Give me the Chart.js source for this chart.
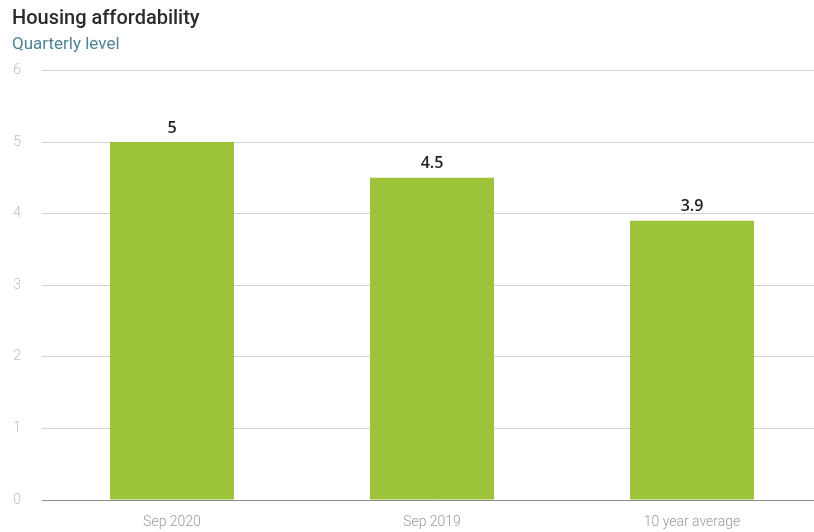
<!DOCTYPE html>
<html>
<head>
<meta charset="utf-8">
<script src="https://cdn.jsdelivr.net/npm/chart.js@4/dist/chart.umd.min.js"></script>
<style>
  html, body { margin: 0; padding: 0; background: #fff; overflow: hidden; }
  #clip { width: 814px; height: 532px; overflow: hidden; }
  #wrap { width: 822px; height: 532px; position: relative; }
</style>
</head>
<body>
<div id="clip"><div id="wrap"><canvas id="chart"></canvas></div></div>
<script>
// data
const categories = ['Sep 2020', 'Sep 2019', '10 year average'];
const affordability = [5, 4.5, 3.9];
const yTicks = [0, 1, 2, 3, 4, 5, 6];

// value labels above bars
const valueLabels = {
  id: 'valueLabels',
  afterDatasetsDraw(chart) {
    const ctx = chart.ctx;
    const meta = chart.getDatasetMeta(0);
    ctx.save();
    ctx.font = '600 16px "Open Sans"';
    ctx.fillStyle = '#222';
    ctx.textAlign = 'center';
    ctx.textBaseline = 'bottom';
    meta.data.forEach((bar, i) => {
      ctx.fillText(String(affordability[i]), bar.x, bar.y - 6);
    });
    ctx.restore();
  }
};

new Chart(document.getElementById('chart'), {
  type: 'bar',
  data: {
    labels: categories,
    datasets: [{
      data: affordability,
      backgroundColor: '#9dc33b',
      categoryPercentage: 1,
      barPercentage: 0.477
    }]
  },
  options: {
    responsive: true,
    maintainAspectRatio: false,
    animation: false,
    layout: { padding: { left: 12, right: 0, top: 0, bottom: 0 } },
    plugins: {
      legend: { display: false },
      tooltip: { enabled: false },
      title: {
        display: true, text: 'Housing affordability', align: 'start',
        color: '#2b2b2b', font: { family: 'Roboto', size: 20, weight: '500' },
        padding: { top: 7, bottom: 4 }
      },
      subtitle: {
        display: true, text: 'Quarterly level', align: 'start',
        color: '#4f8497', font: { family: 'Roboto', size: 17, weight: '400' },
        padding: { top: 0, bottom: 15 }
      }
    },
    scales: {
      y: {
        min: 0, max: 6,
        afterBuildTicks(axis) { axis.ticks = yTicks.map(v => ({ value: v })); },
        afterFit(axis) { axis.width = 30; },
        grid: { color: '#d4d4d4', drawTicks: false },
        border: { display: false },
        ticks: { color: '#bdbdbd', font: { family: 'Roboto', size: 14, weight: '300' }, padding: 21 }
      },
      x: {
        afterFit(axis) { axis.height = 32; },
        grid: { display: false },
        border: { display: true, color: '#8a8a8a' },
        ticks: { color: '#9a9a9a', font: { family: 'Roboto', size: 14, weight: '300' }, padding: 6 }
      }
    }
  },
  plugins: [valueLabels]
});
</script>
</body>
</html>
